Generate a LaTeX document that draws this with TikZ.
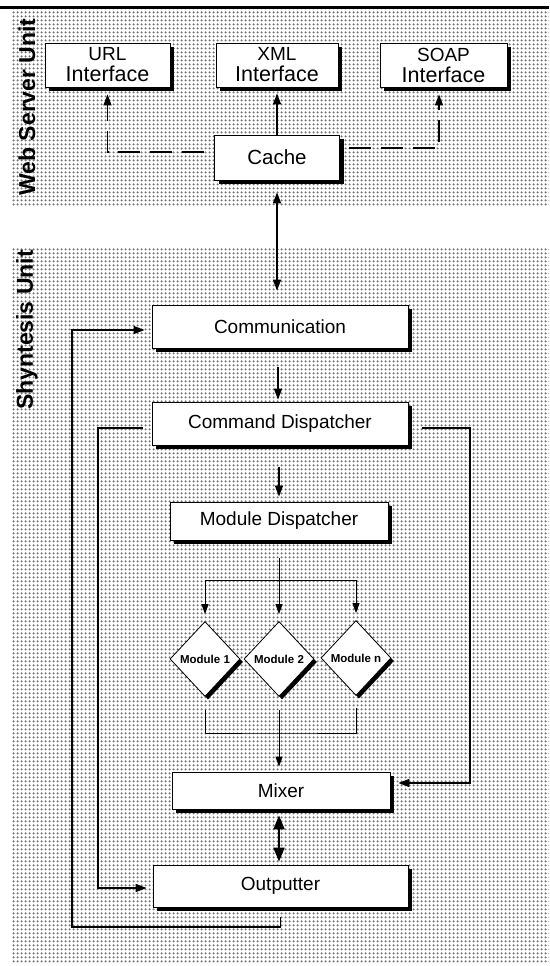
\documentclass[tikz,border=0pt]{standalone}
\usepackage{fontspec}
\setmainfont{Liberation Sans}
\usetikzlibrary{shapes.geometric,shadows,arrows.meta,patterns}

\pgfdeclarepatternformonly{halftone}{\pgfpointorigin}{\pgfpoint{4pt}{4pt}}{\pgfpoint{4pt}{4pt}}{%
  \pgfpathcircle{\pgfpoint{2pt}{2pt}}{1.5pt}\pgfusepath{fill}}

\tikzset{
  unitbox/.style={draw, fill=white, line width=0.8pt, inner sep=0pt, align=center,
    drop shadow={shadow xshift=4pt, shadow yshift=-4pt, opacity=1, fill=black},
    font=\fontsize{19}{22}\selectfont},
  modbox/.style={diamond, draw, fill=white, line width=0.8pt, inner sep=0pt,
    minimum width=70pt, minimum height=75pt,
    drop shadow={shadow xshift=3pt, shadow yshift=-3pt, opacity=1, fill=black},
    font=\bfseries\fontsize{11.5}{13}\selectfont},
  unitlabel/.style={rotate=90, font=\bfseries\fontsize{23}{23}\selectfont},
  flow/.style={line width=1.4pt, -{Triangle[length=11pt,width=8pt]}},
  twoway/.style={line width=1.4pt, {Triangle[length=11pt,width=8pt]}-{Triangle[length=11pt,width=8pt]}},
  bigtwoway/.style={line width=2pt, {Triangle[length=14pt,width=11pt]}-{Triangle[length=14pt,width=11pt]}},
  dashlink/.style={line width=1.3pt, dash pattern=on 22pt off 10pt, -{Triangle[length=11pt,width=8pt]}},
  fanline/.style={line width=0.8pt},
  fanarrow/.style={line width=0.8pt, -{Triangle[length=10pt,width=7pt]}},
}

\begin{document}
\begin{tikzpicture}[x=1pt, y=-1pt]
  \useasboundingbox (0,0) rectangle (549,966);
  \fill[white] (0,0) rectangle (549,966);

  % panels
  \fill[pattern=halftone, pattern color=black!55] (12,10) rectangle (549,205);
  \fill[pattern=halftone, pattern color=black!55] (12,247) rectangle (549,963);
  \draw[line width=3pt] (0,8) -- (549,8);

  \node[unitlabel] (websrv) at (27,107) {Web Server Unit};
  \node[unitlabel] (synth) at (27,330) {Shyntesis Unit};

  % web server unit
  \node[unitbox, minimum width=125pt, minimum height=44pt] (url) at (107.5,65)
    {URL\\[-1pt]{\fontsize{21.5}{22}\selectfont Interface}};
  \node[unitbox, minimum width=122pt, minimum height=44pt] (xml) at (277,65)
    {XML\\[-1pt]{\fontsize{21.5}{22}\selectfont Interface}};
  \node[unitbox, minimum width=127pt, minimum height=44pt] (soap) at (443.5,65)
    {SOAP\\[-1pt]{\fontsize{21.5}{22}\selectfont Interface}};
  \node[unitbox, minimum width=125pt, minimum height=45pt, font=\fontsize{20.5}{22}\selectfont] (cache) at (277,157.5) {Cache};

  % synthesis unit
  \node[unitbox, minimum width=256pt, minimum height=43pt] (comm) at (280,326.5) {Communication};
  \node[unitbox, minimum width=256pt, minimum height=43pt] (cmd) at (280,423.5) {Command Dispatcher};
  \node[unitbox, minimum width=218pt, minimum height=38pt] (mdisp) at (279,521) {Module Dispatcher};
  \node[modbox] (m1) at (205,659) {Module 1};
  \node[modbox] (m2) at (279,659) {Module 2};
  \node[modbox] (mn) at (356,658) {Module n};
  \node[unitbox, minimum width=218pt, minimum height=37pt] (mixer) at (281,790.5) {Mixer};
  \node[unitbox, minimum width=255pt, minimum height=42pt] (outp) at (280.5,886) {Outputter};

  \coordinate (fan) at (279,580);
  \coordinate (gather) at (279,733);
  \coordinate (busL) at (72,927);
  \coordinate (busM) at (98,888);
  \coordinate (busR) at (470,783);

  % web server links
  \draw[dashlink, shorten >=7pt] ([xshift=-10pt,yshift=5.5pt]cache.west) -| (url.south);
  \draw[dashlink, shorten >=7pt] ([xshift=9pt,yshift=9.5pt]cache.east) -| ([xshift=-4.5pt]soap.south);
  \draw[flow, shorten >=6pt] (cache.north) -- (xml.south);
  \draw[twoway, shorten <=12pt, shorten >=14pt] (cache.south) -- (cache.south |- comm.north);

  % main chain
  \draw[flow, shorten <=19pt, shorten >=2pt] ([xshift=-2pt]comm.south) -- ([xshift=-2pt]comm.south |- cmd.north);
  \draw[flow, shorten <=22pt, shorten >=5pt] (mdisp.north |- cmd.south) -- (mdisp.north);
  \draw[fanarrow, shorten <=18pt, shorten >=7pt] (mdisp.south) -- (m2.north);
  \draw[fanline] (fan -| m1) -- (fan -| mn);
  \draw[fanarrow, shorten >=7pt] (fan -| m1) -- (m1.north);
  \draw[fanarrow, shorten >=7pt] (fan -| mn) -- (mn.north);
  \draw[fanline] ([yshift=-13pt]m1.south) |- (gather) -| ([yshift=-12pt]mn.south);
  \draw[fanarrow, shorten <=13pt, shorten >=5pt] (m2.south) -- (m2.south |- mixer.north);
  \draw[bigtwoway, shorten <=6pt, shorten >=3pt] (m2.south |- mixer.south) -- (m2.south |- outp.north);

  % feedback routes
  \draw[flow, shorten >=7pt] ([yshift=-10pt]outp.south) -- (outp.south |- busL) -- (busL) |- ([yshift=-3.5pt]comm.west);
  \draw[flow, shorten >=6pt] ([xshift=-9pt,yshift=-4.5pt]cmd.west) -| (busM) -- ([yshift=-2pt]outp.west);
  \draw[flow, shorten >=8pt] ([xshift=14pt,yshift=-4.5pt]cmd.east) -| (busR) -- ([yshift=7.5pt]mixer.east);
\end{tikzpicture}
\end{document}
